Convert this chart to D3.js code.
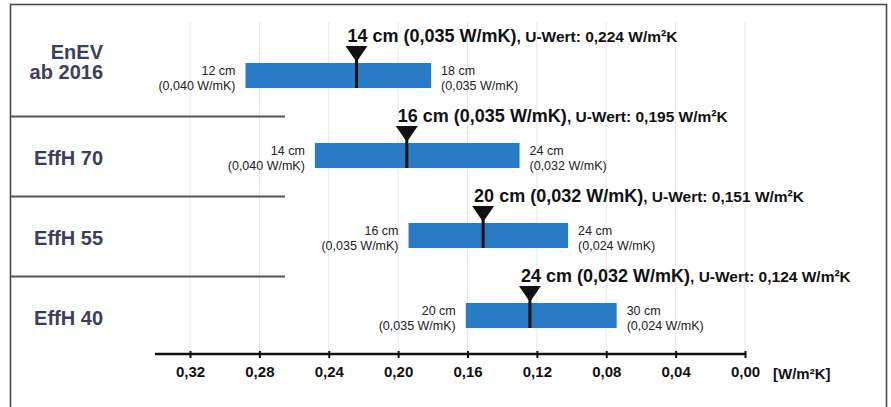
<!DOCTYPE html>
<html>
<head>
<meta charset="utf-8">
<script src="https://cdn.jsdelivr.net/npm/d3@7"></script>
<style>
  html, body { margin: 0; padding: 0; background: #fff; }
  svg { display: block; font-family: "Liberation Sans", Arial, Helvetica, sans-serif; }
</style>
</head>
<body>
<svg id="chart" width="891" height="407"></svg>
<script>
// Efficiency standards (rows) and their U-value ranges in W/m²K
const categories = ["EnEV ab 2016", "EffH 70", "EffH 55", "EffH 40"];
const categoryLines = [["EnEV", "ab 2016"], ["EffH 70"], ["EffH 55"], ["EffH 40"]];

// Left end of each bar (thinner insulation, worse U-value)
const uMax = [0.288, 0.248, 0.194, 0.161];
const leftThickness = ["12 cm", "14 cm", "16 cm", "20 cm"];
const leftLambda = ["(0,040 W/mK)", "(0,040 W/mK)", "(0,035 W/mK)", "(0,035 W/mK)"];

// Right end of each bar (thicker insulation, better U-value)
const uMin = [0.181, 0.130, 0.102, 0.074];
const rightThickness = ["18 cm", "24 cm", "24 cm", "30 cm"];
const rightLambda = ["(0,035 W/mK)", "(0,032 W/mK)", "(0,024 W/mK)", "(0,024 W/mK)"];

// Reference construction marked by the pointer
const uRef = [0.224, 0.195, 0.151, 0.124];
const refThickness = ["14 cm", "16 cm", "20 cm", "24 cm"];
const refLambda = ["0,035", "0,035", "0,032", "0,032"];

// Axis ticks
const tickValues = [0.32, 0.28, 0.24, 0.20, 0.16, 0.12, 0.08, 0.04, 0.00];
const axisUnit = "[W/m²K]";

const de = d3.formatLocale({ decimal: ",", thousands: ".", grouping: [3], currency: ["", " €"] });
const fmtTick = de.format(".2f");
const fmtU = de.format(".3f");

const svg = d3.select("#chart");

// Reversed scale: high U-values on the left
const x = d3.scaleLinear().domain([0.32, 0.0]).range([190, 745]);
const y = d3.scalePoint().domain(categories).range([75.5, 315.5]);
const barH = 25;
const axisY = 354;

const rows = categories.map((c, i) => ({
  cat: c, lines: categoryLines[i],
  uMax: uMax[i], uMin: uMin[i], uRef: uRef[i],
  lt: leftThickness[i], ll: leftLambda[i],
  rt: rightThickness[i], rl: rightLambda[i],
  refT: refThickness[i], refL: refLambda[i]
}));

// Frame
svg.append("rect")
  .attr("x", 10.5).attr("y", 4.5).attr("width", 876).attr("height", 430)
  .attr("fill", "none").attr("stroke", "#4a4a4a").attr("stroke-width", 1.6);

// Light vertical gridlines
svg.append("g").selectAll("line").data(tickValues).join("line")
  .attr("x1", d => x(d)).attr("x2", d => x(d))
  .attr("y1", 22).attr("y2", axisY - 2)
  .attr("stroke", "#e6e6e6").attr("stroke-width", 1);

// Row separators
const cy = categories.map(c => y(c));
const seps = d3.range(categories.length - 1).map(i => (cy[i] + cy[i + 1]) / 2 + 1);
svg.append("g").selectAll("line").data(seps).join("line")
  .attr("x1", 11).attr("x2", 285).attr("y1", d => d).attr("y2", d => d)
  .attr("stroke", "#555").attr("stroke-width", 2);

// Category labels
const catG = svg.append("g");
rows.forEach(r => {
  const c = y(r.cat);
  const n = r.lines.length;
  r.lines.forEach((t, j) => {
    catG.append("text")
      .attr("x", 103)
      .attr("y", c + 9 - (n - 1 - j) * 20 + (n > 1 ? -6 : 0))
      .attr("text-anchor", "end")
      .attr("font-size", 20).attr("font-weight", "bold")
      .attr("fill", "#3b3f5f")
      .text(t);
  });
});

// Range bars
svg.append("g").selectAll("rect").data(rows).join("rect")
  .attr("x", d => x(d.uMax))
  .attr("y", d => y(d.cat) - barH / 2)
  .attr("width", d => x(d.uMin) - x(d.uMax))
  .attr("height", barH)
  .attr("fill", "#2a7bc7");

// End labels
const endG = svg.append("g").attr("font-size", 12.5).attr("fill", "#222");
rows.forEach(r => {
  const c = y(r.cat);
  const l = endG.append("text").attr("text-anchor", "end");
  l.append("tspan").attr("x", x(r.uMax) - 10).attr("y", c - 0.5).text(r.lt);
  l.append("tspan").attr("x", x(r.uMax) - 10).attr("y", c + 14).text(r.ll);
  const rt = endG.append("text").attr("text-anchor", "start");
  rt.append("tspan").attr("x", x(r.uMin) + 10).attr("y", c - 0.5).text(r.rt);
  rt.append("tspan").attr("x", x(r.uMin) + 10).attr("y", c + 14).text(r.rl);
});

// Reference markers: pointer triangle plus stem through the bar
const mk = svg.append("g");
rows.forEach(r => {
  const mx = x(r.uRef);
  const top = y(r.cat) - barH / 2;
  mk.append("path")
    .attr("d", `M${mx - 11},${top - 17}L${mx + 11},${top - 17}L${mx},${top - 1}Z`)
    .attr("fill", "#111");
  mk.append("line")
    .attr("x1", mx).attr("x2", mx)
    .attr("y1", top - 4).attr("y2", top + barH)
    .attr("stroke", "#111").attr("stroke-width", 3);
  const t = mk.append("text")
    .attr("x", mx - 9).attr("y", y(r.cat) - 34)
    .attr("font-weight", "bold").attr("fill", "#111");
  t.append("tspan").attr("font-size", 18).text(`${r.refT} (${r.refL} W/mK)`);
  t.append("tspan").attr("font-size", 15.5).text(`, U-Wert: ${fmtU(r.uRef)} W/m²K`);
});

// Bottom axis
const axis = d3.axisBottom(x).tickValues(tickValues).tickFormat(fmtTick)
  .tickSize(4).tickPadding(8);
const ax = svg.append("g").attr("transform", `translate(0,${axisY})`).call(axis);
ax.select(".domain").remove();
ax.append("line").attr("x1", 155).attr("x2", x(0)).attr("y1", 0).attr("y2", 0)
  .attr("stroke", "#111").attr("stroke-width", 2.5);
ax.selectAll(".tick line").attr("stroke", "#111").attr("stroke-width", 2)
  .attr("y1", -3);
ax.selectAll(".tick text")
  .attr("font-family", "Liberation Sans, Arial, sans-serif")
  .attr("font-size", 15).attr("font-weight", "bold").attr("fill", "#111");
svg.append("text")
  .attr("x", 773).attr("y", 378.5)
  .attr("font-size", 15).attr("font-weight", "bold").attr("fill", "#111")
  .text(axisUnit);
</script>
</body>
</html>
